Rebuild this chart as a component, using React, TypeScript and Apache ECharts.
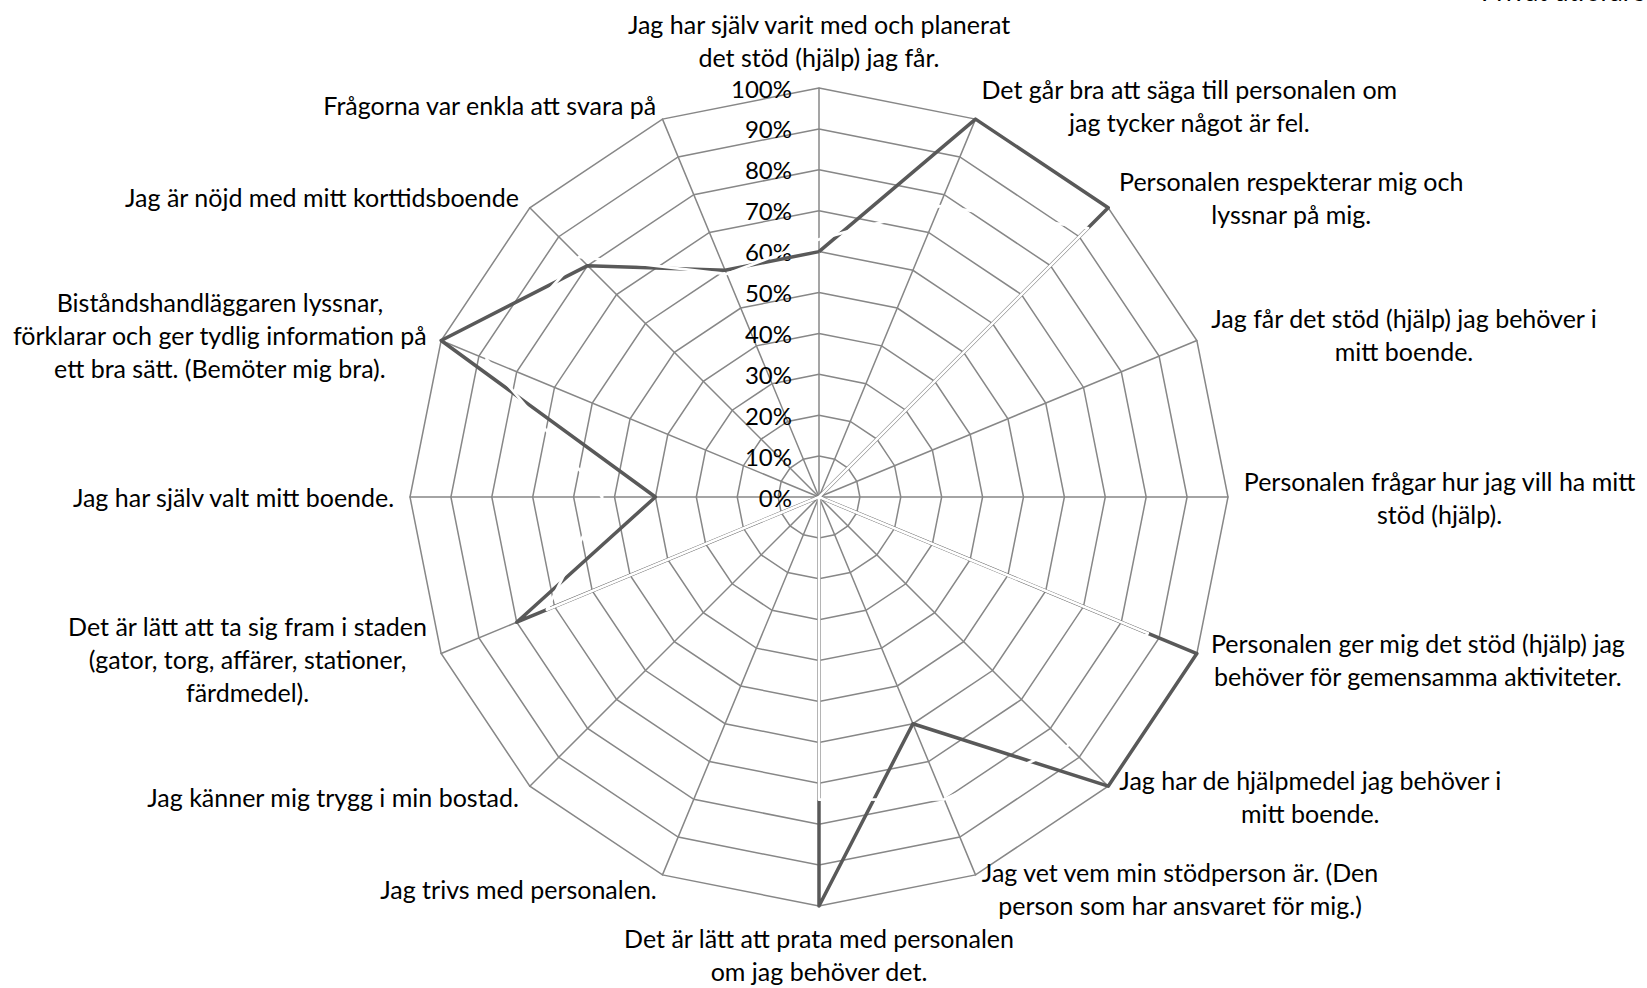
import React, { useEffect, useRef } from 'react';
import * as echarts from 'echarts';

const categories: string[] = [
  'Jag har själv varit med och planerat\ndet stöd (hjälp) jag får.',
  'Det går bra att säga till personalen om\njag tycker något är fel.',
  'Personalen respekterar mig och\nlyssnar på mig.',
  'Jag får det stöd (hjälp) jag behöver i\nmitt boende.',
  'Personalen frågar hur jag vill ha mitt\nstöd (hjälp).',
  'Personalen ger mig det stöd (hjälp) jag\nbehöver för gemensamma aktiviteter.',
  'Jag har de hjälpmedel jag behöver i\nmitt boende.',
  'Jag vet vem min stödperson är. (Den\nperson som har ansvaret för mig.)',
  'Det är lätt att prata med personalen\nom jag behöver det.',
  'Jag trivs med personalen.',
  'Jag känner mig trygg i min bostad.',
  'Det är lätt att ta sig fram i staden\n(gator, torg, affärer, stationer,\nfärdmedel).',
  'Jag har själv valt mitt boende.',
  'Biståndshandläggaren lyssnar,\nförklarar och ger tydlig information på\nett bra sätt. (Bemöter mig bra).',
  'Jag är nöjd med mitt korttidsboende',
  'Frågorna var enkla att svara på',
];

// dark series (Privat utförare), percent
const privatValues: number[] = [60, 100, 100, 0, 0, 100, 100, 60, 100, 0, 0, 80, 40, 100, 80, 60];
// second series drawn in white (only visible where it crosses other lines)
const whiteValues: number[] = [63, 77, 93, 0, 0, 87, 86, 80, 74, 0, 0, 72, 53, 88, 83, 59];

const titleText = 'Privat utförare';

const FONT = 'Lato';
const FS = 25;

export default function App() {
  const ref = useRef<HTMLDivElement>(null);
  useEffect(() => {
    const chart = echarts.init(ref.current!, null, { renderer: 'svg' });
    const n = categories.length;
    // ECharts radar goes counter-clockwise; reorder so categories run clockwise
    const order = categories.map((_, i) => (i === 0 ? 0 : n - i));
    const indicator = order.map((ci, k) => {
      const item: any = { name: categories[ci], min: 0, max: 100 };
      if (k === 0) item.axisLabel = { show: true };
      return item;
    });
    chart.setOption({
      animation: false,
      title: {
        text: titleText,
        left: 1481,
        top: -22,
        padding: 0,
        textStyle: { fontFamily: FONT, fontSize: 26, fontWeight: 'normal', color: '#000' },
      },
      radar: {
        center: [819, 497],
        radius: 409,
        startAngle: 90,
        splitNumber: 10,
        shape: 'polygon',
        axisNameGap: 15,
        axisName: {
          color: '#000',
          fontFamily: FONT,
          fontSize: FS,
          formatter: (name: string) => name.split('\n').map((l) => `{c|${l}}`).join('\n'),
          rich: {
            c: { align: 'center', fontFamily: FONT, fontSize: FS, lineHeight: 33, color: '#000' },
          },
        },
        axisLine: { lineStyle: { color: '#878787', width: 1.5 } },
        splitLine: { lineStyle: { color: '#878787', width: 1.5 } },
        splitArea: { show: false },
        axisTick: { show: false },
        axisLabel: {
          show: false,
          formatter: '{value}%',
          margin: 27,
          color: '#000',
          fontFamily: FONT,
          fontSize: 24,
        },
        indicator,
      },
      series: [
        {
          type: 'radar',
          symbol: 'none',
          silent: true,
          data: [{ value: order.map((ci) => privatValues[ci]), name: 'Privat utförare' }],
          lineStyle: { color: '#595959', width: 3.5, join: 'round' },
        },
        {
          type: 'radar',
          symbol: 'none',
          silent: true,
          data: [{ value: order.map((ci) => whiteValues[ci]), name: 'Övrigt' }],
          lineStyle: { color: '#ffffff', width: 2.8, join: 'round' },
        },
      ],
    });
    return () => chart.dispose();
  }, []);
  return (
    <div
      ref={ref}
      style={{ position: 'fixed', left: 0, top: 0, width: 1647, height: 988, background: '#fff' }}
    />
  );
}
